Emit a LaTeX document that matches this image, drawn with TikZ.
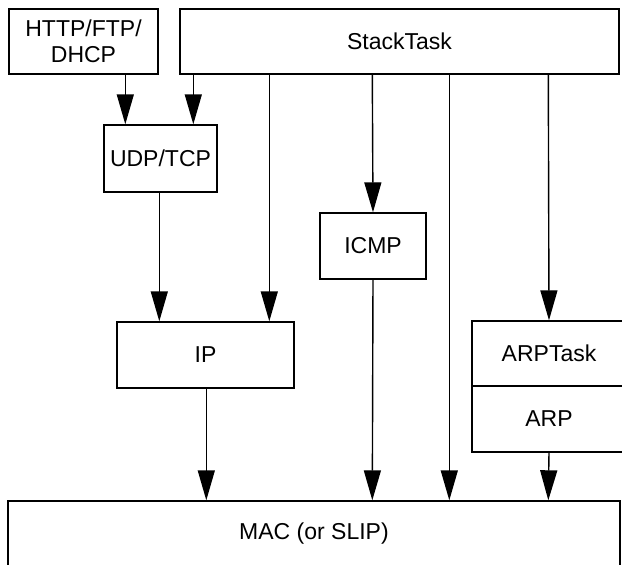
\documentclass[tikz,border=0pt]{standalone}
\usepackage{fontspec}
\setmainfont{Liberation Sans}
\usetikzlibrary{arrows.meta}
\begin{document}
\begin{tikzpicture}[x=1pt,y=-1pt,
  box/.style={draw=black,line width=1.4pt,inner sep=0pt,minimum width=#1,
    font=\fontsize{23}{26}\selectfont,align=center,text=black},
  arr/.style={line width=1.4pt,-{Triangle[length=30pt,width=17pt]}}]
\useasboundingbox (0,0) rectangle (622,565);
\node[box=149pt,minimum height=65pt] (http) at (83.5,41.5) {HTTP/FTP/\\DHCP};
\node[box=439pt,minimum height=65pt] (stack) at (399.5,41.5) {StackTask};
\node[box=113pt,minimum height=67pt] (udp) at (160.5,158.5) {UDP/TCP};
\node[box=106pt,minimum height=66pt] (icmp) at (373,246) {ICMP};
\node[box=177pt,minimum height=66pt] (ip) at (205.5,355) {IP};
\node[box=154pt,minimum height=65pt] (arptask) at (549,353.5) {ARPTask};
\node[box=154pt,minimum height=66pt] (arp) at (549,419) {ARP};
\node[box=612pt,minimum height=66pt] (mac) at (314,534) {MAC (or SLIP)};
\draw[arr] ([xshift=117pt]http.south west) -- ([xshift=22pt]udp.north west);
\draw[arr] ([xshift=14pt]stack.south west) -- ([xshift=90pt]udp.north west);
\draw[arr] ([xshift=90pt]stack.south west) -- ([xshift=153pt]ip.north west);
\draw[arr] ([xshift=193pt]stack.south west) -- (icmp.north);
\draw[arr] ([xshift=270pt]stack.south west) -- ([xshift=442pt]mac.north west);
\draw[arr] ([xshift=369pt]stack.south west) -- (arptask.north);
\draw[arr] ([xshift=56pt]udp.south west) -- ([xshift=43pt]ip.north west);
\draw[arr] ([xshift=90pt]ip.south west) -- ([xshift=199pt]mac.north west);
\draw[arr] (icmp.south) -- ([xshift=365pt]mac.north west);
\draw[arr] (arp.south) -- ([xshift=541pt]mac.north west);
\end{tikzpicture}
\end{document}
